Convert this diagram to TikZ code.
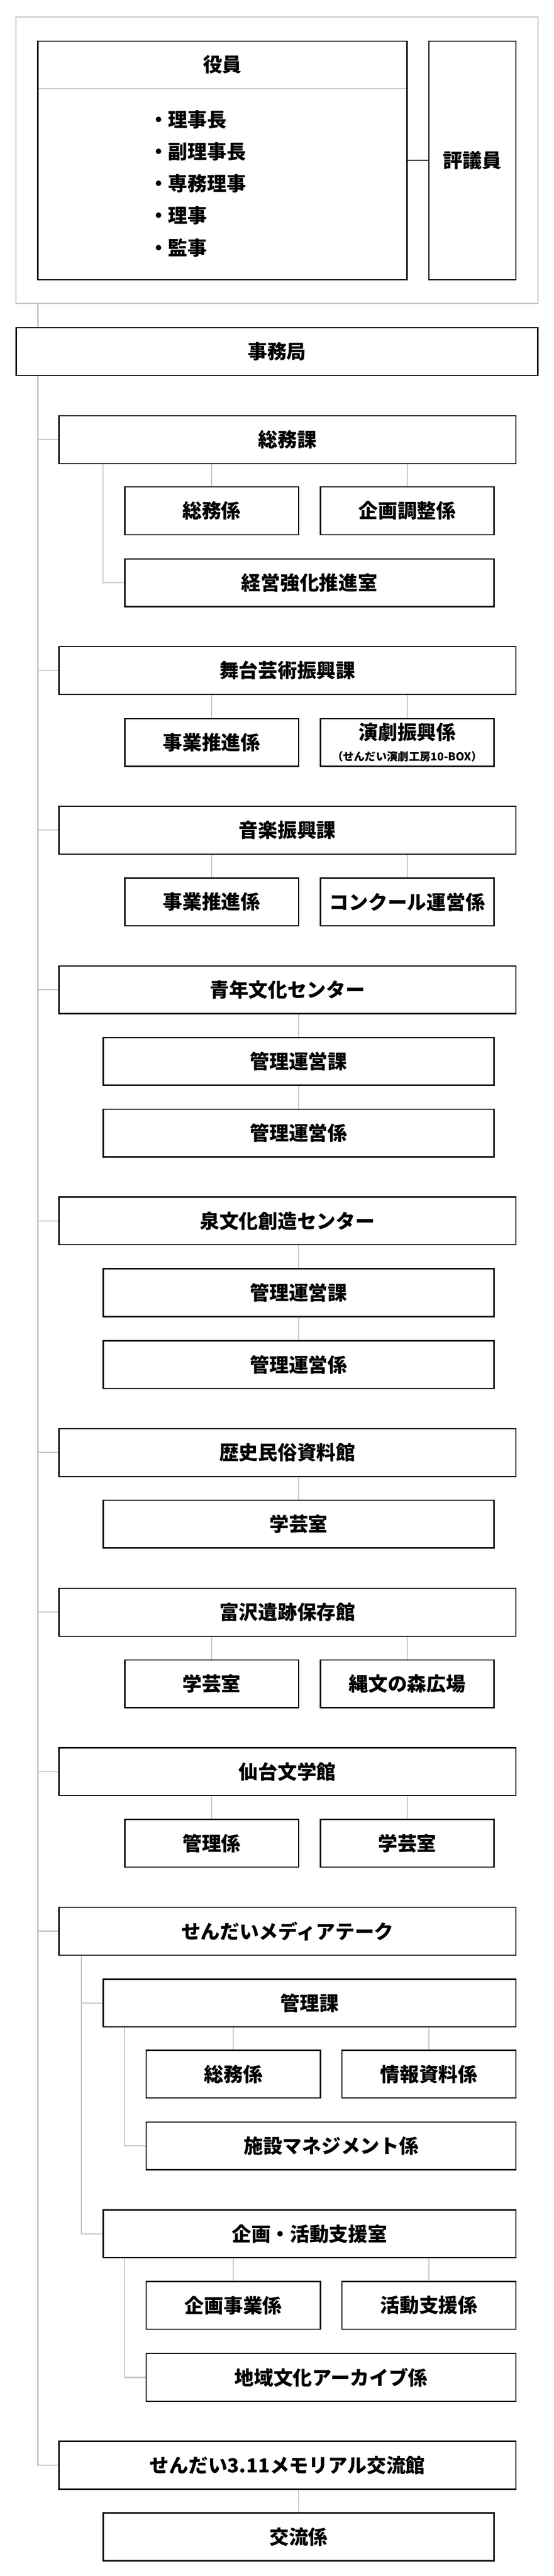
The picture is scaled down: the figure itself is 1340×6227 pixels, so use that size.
\documentclass[tikz,border=0pt]{standalone}
\usepackage{fontspec}
\setmainfont{Noto Sans CJK JP}
\usetikzlibrary{backgrounds}
\definecolor{linegray}{RGB}{196,196,196}
\begin{document}
\begin{tikzpicture}[x=1pt,y=-1pt,
  box/.style={draw=black, line width=3pt, fill=white, inner sep=0pt, outer sep=0pt,
    minimum height=115.5pt, align=center, font=\bfseries\fontsize{47}{56}\selectfont},
  lone/.style={box, minimum width=1105.5pt},
  pair/.style={box, minimum width=420pt},
  wide/.style={box, minimum width=893pt},
  col/.style={box, minimum width=945.5pt},
  msub/.style={box, minimum width=998.5pt},
  mpair/.style={box, minimum width=421pt},
  mwide/.style={box, minimum width=894pt},
  conn/.style={draw=linegray, line width=2.7pt},
  txt/.style={inner sep=0pt, font=\bfseries\fontsize{47}{56}\selectfont},
  small/.style={inner sep=0pt, font=\bfseries\fontsize{26.5}{30}\selectfont}]
\useasboundingbox (0,0) rectangle (1340,6227);

% top block
\node[box, draw=linegray, line width=2.7pt, fill=none, minimum width=1262pt, minimum height=693pt] (outer) at (670,387.5) {};
\node[box, minimum width=893pt, minimum height=576.5pt] (yakuin) at (538,387.75) {};
\node[box, minimum width=210.5pt, minimum height=576.5pt] (hyogi) at (1142.75,387.75) {評議員};
\node[txt] (yakuinT) at (538,156) {役員};
\coordinate (divL) at (93,214);
\coordinate (divR) at (983,214);
\draw[conn] (divL) -- (divR);
\node[txt, anchor=west] (y1) at (360,289) {・理事長};
\node[txt, anchor=west] (y2) at (360,367) {・副理事長};
\node[txt, anchor=west] (y3) at (360,444) {・専務理事};
\node[txt, anchor=west] (y4) at (360,521) {・理事};
\node[txt, anchor=west] (y5) at (360,599) {・監事};
\draw[black, line width=2.7pt] (yakuin.east) -- (hyogi.west);

\node[box, minimum width=1262pt, minimum height=116pt] (jimu) at (670,850) {事務局};

% level 1
\node[lone] (somuka)   at (695.25,1062.75) {総務課};
\node[lone] (butai)    at (695.25,1620.75) {舞台芸術振興課};
\node[lone] (ongaku)   at (695.25,2006.75) {音楽振興課};
\node[lone] (seinen)   at (695.25,2392.75) {青年文化センター};
\node[lone] (izumi)    at (695.25,2951.25) {泉文化創造センター};
\node[lone] (rekishi)  at (695.25,3511.25) {歴史民俗資料館};
\node[lone] (tomizawa) at (695.25,3897.25) {富沢遺跡保存館};
\node[lone] (bungaku)  at (695.25,4282.75) {仙台文学館};
\node[lone] (media)    at (695.25,4668.25) {せんだいメディアテーク};
\node[lone] (memorial) at (695.25,5959.25) {せんだい3.11メモリアル交流館};

% 総務課
\node[pair] (somukakari) at (512,1234.75) {総務係};
\node[pair] (kikakucho)  at (985,1234.75) {企画調整係};
\node[wide] (keiei)      at (748.5,1408.75) {経営強化推進室};
% 舞台芸術振興課
\node[pair] (bjigyo) at (512,1794.75) {事業推進係};
\node[pair] (engeki) at (985,1794.75) {};
\node[txt] (engekiT) at (985,1770) {演劇振興係};
\node[small] (engekiS) at (985,1829) {（せんだい演劇工房10-BOX）};
% 音楽振興課
\node[pair] (ojigyo)   at (512,2180.25) {事業推進係};
\node[pair] (concours) at (985,2180.25) {コンクール運営係};
% 青年文化センター
\node[col] (skanrika) at (722.25,2565.75) {管理運営課};
\node[col] (skanrikk) at (722.25,2738.75) {管理運営係};
% 泉文化創造センター
\node[col] (ikanrika) at (722.25,3124.75) {管理運営課};
\node[col] (ikanrikk) at (722.25,3298.75) {管理運営係};
% 歴史民俗資料館
\node[col] (rgakugei) at (722.25,3684.25) {学芸室};
% 富沢遺跡保存館
\node[pair] (tgakugei) at (512,4070.25) {学芸室};
\node[pair] (jomon)    at (985,4070.25) {縄文の森広場};
% 仙台文学館
\node[pair] (bkanri)   at (512,4455.75) {管理係};
\node[pair] (bgakugei) at (985,4455.75) {学芸室};
% せんだいメディアテーク
\node[msub]  (mkanri)   at (748.75,4841.75) {管理課};
\node[mpair] (msomu)    at (564.5,5013.75) {総務係};
\node[mpair] (mjoho)    at (1037.5,5013.75) {情報資料係};
\node[mwide] (shisetsu) at (801,5187.25) {施設マネジメント係};
\node[msub]  (mkikaku)  at (748.75,5399.75) {企画・活動支援室};
\node[mpair] (kjigyo)   at (564.5,5572.75) {企画事業係};
\node[mpair] (katsudo)  at (1037.5,5572.75) {活動支援係};
\node[mwide] (chiiki)   at (801,5746.75) {地域文化アーカイブ係};
% メモリアル
\node[col] (koryu) at (722.25,6132.25) {交流係};

\begin{scope}[on background layer]
\fill[white] (0,0) rectangle (1340,6227);
\coordinate (trunk) at (91.5,0);
\coordinate (sbr) at (249.5,0);
\coordinate (mbr) at (196.6,0);
\coordinate (mbr2) at (301.7,0);
\draw[conn] (outer.south -| trunk) -- (jimu.north -| trunk);
\draw[conn] (jimu.south -| trunk) |- (memorial.west);
\foreach \n in {somuka,butai,ongaku,seinen,izumi,rekishi,tomizawa,bungaku,media}
  \draw[conn] (trunk |- \n.west) -- (\n.west);
\foreach \c/\p in {somukakari/somuka,kikakucho/somuka,bjigyo/butai,engeki/butai,
   ojigyo/ongaku,concours/ongaku,skanrika/seinen,skanrikk/skanrika,
   ikanrika/izumi,ikanrikk/ikanrika,rgakugei/rekishi,tgakugei/tomizawa,jomon/tomizawa,
   bkanri/bungaku,bgakugei/bungaku,msomu/mkanri,mjoho/mkanri,kjigyo/mkikaku,katsudo/mkikaku,
   koryu/memorial}
  \draw[conn] (\c.north) -- (\c.north |- \p.south);
\draw[conn] (sbr |- somuka.south) |- (keiei.west);
\draw[conn] (mbr |- media.south) |- (mkikaku.west);
\draw[conn] (mbr |- mkanri.west) -- (mkanri.west);
\draw[conn] (mbr2 |- mkanri.south) |- (shisetsu.west);
\draw[conn] (mbr2 |- mkikaku.south) |- (chiiki.west);
\end{scope}
\end{tikzpicture}
\end{document}
